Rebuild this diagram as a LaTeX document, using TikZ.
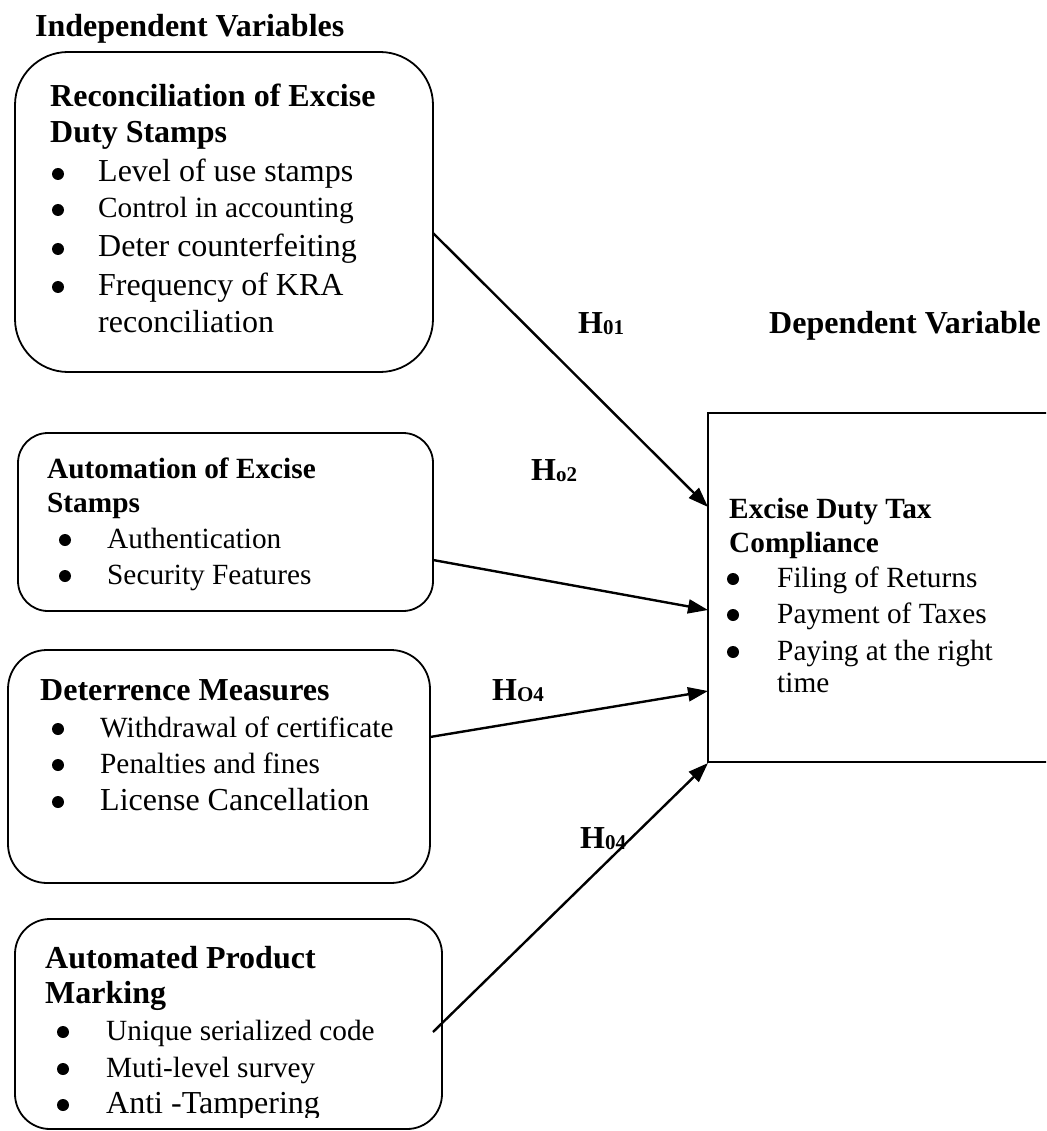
\documentclass[tikz,border=0pt]{standalone}
\usepackage{fontspec}
\setmainfont{Liberation Serif}
\usetikzlibrary{arrows.meta}
\newcommand\fsL{\fontsize{32}{37}\selectfont}
\newcommand\fsM{\fontsize{29.3}{34}\selectfont}
\newcommand\fsS{\fontsize{21}{23}\selectfont}
\begin{document}
\begin{tikzpicture}[x=1pt,y=-1pt,
  box/.style={draw, line width=1.8pt, inner sep=0pt},
  txt/.style={anchor=base west, inner sep=0pt},
  bul/.style={circle, fill, inner sep=0pt, minimum size=12pt, yshift=8pt},
  conn/.style={line width=2.4pt, -{Triangle[length=20pt,width=14pt]}},
  lbl/.style={anchor=base west, inner sep=0pt, font=\fsL\bfseries}]
\useasboundingbox (0,0) rectangle (1046,1131);
\clip (0,0) rectangle (1046,1131);

% boxes
\node[box, rounded corners=53pt, minimum width=418pt, minimum height=320pt] (b1) at (224,212) {};
\node[box, rounded corners=30pt, minimum width=415pt, minimum height=178pt] (b2) at (225.5,522) {};
\node[box, rounded corners=39pt, minimum width=422pt, minimum height=233pt] (b3) at (219,766.5) {};
\node[box, rounded corners=35pt, minimum width=427pt, minimum height=210pt] (b4) at (228.5,1024) {};
\node[box, minimum width=352pt, minimum height=349pt] (dv) at (884,587.5) {};

% headings
\node[txt, font=\fsL\bfseries] (iv) at (35,37) {Independent Variables};
\node[txt, font=\fsL\bfseries] (dvh) at (769,333) {Dependent Variable};

% box 1
\node[txt, font=\fsL\bfseries] (b1h1) at (50,107) {Reconciliation of Excise};
\node[txt, font=\fsL\bfseries] (b1h2) at (50,143) {Duty Stamps};
\node[bul] (b1d1) at (58,182) {};
\node[txt, font=\fsL] (b1t1) at (98,182) {Level of use stamps};
\node[bul] (b1d2) at (58,218) {};
\node[txt, font=\fsM] (b1t2) at (98,218) {Control in accounting};
\node[bul] (b1d3) at (58,257) {};
\node[txt, font=\fsL] (b1t3) at (98,257) {Deter counterfeiting};
\node[bul] (b1d4) at (58,295) {};
\node[txt, font=\fsL] (b1t4) at (98,295) {Frequency of KRA};
\node[txt, font=\fsL] (b1t5) at (98,332) {reconciliation};

% box 2
\node[txt, font=\fsM\bfseries] (b2h1) at (47,478) {Automation of Excise};
\node[txt, font=\fsM\bfseries] (b2h2) at (47,512) {Stamps};
\node[bul] (b2d1) at (65,548) {};
\node[txt, font=\fsM] (b2t1) at (107,548) {Authentication};
\node[bul] (b2d2) at (65,584) {};
\node[txt, font=\fsM] (b2t2) at (107,584) {Security Features};

% box 3
\node[txt, font=\fsL\bfseries] (b3h1) at (40,700) {Deterrence Measures};
\node[bul] (b3d1) at (58,737) {};
\node[txt, font=\fsM] (b3t1) at (100,737) {Withdrawal of certificate};
\node[bul] (b3d2) at (58,773) {};
\node[txt, font=\fsM] (b3t2) at (100,773) {Penalties and fines};
\node[bul] (b3d3) at (58,810) {};
\node[txt, font=\fsL] (b3t3) at (100,810) {License Cancellation};

% box 4
\node[txt, font=\fsL\bfseries] (b4h1) at (45,968) {Automated Product};
\node[txt, font=\fsL\bfseries] (b4h2) at (45,1003) {Marking};
\begin{scope}
\clip (0,0) rectangle (1046,1117);
\node[bul] (b4d1) at (63,1040) {};
\node[txt, font=\fsM] (b4t1) at (106,1040) {Unique serialized code};
\node[bul] (b4d2) at (63,1077) {};
\node[txt, font=\fsM] (b4t2) at (106,1077) {Muti-level survey};
\node[bul] (b4d3) at (63,1113) {};
\node[txt, font=\fsL] (b4t3) at (106,1113) {Anti -Tampering};
\end{scope}

% dependent box
\node[txt, font=\fsM\bfseries] (dvh1) at (729,518) {Excise Duty Tax};
\node[txt, font=\fsM\bfseries] (dvh2) at (729,552) {Compliance};
\node[bul] (dvd1) at (733,587) {};
\node[txt, font=\fsM] (dvt1) at (777,587) {Filing of Returns};
\node[bul] (dvd2) at (733,623) {};
\node[txt, font=\fsM] (dvt2) at (777,623) {Payment of Taxes};
\node[bul] (dvd3) at (733,660) {};
\node[txt, font=\fsM] (dvt3) at (777,660) {Paying at the right};
\node[txt, font=\fsM] (dvt4) at (777,692) {time};

% connectors
\coordinate (s1) at (433,233);
\coordinate (t1) at (708,507);
\coordinate (s2) at (433,560);
\coordinate (t2) at (708,610);
\coordinate (s3) at (430,737);
\coordinate (t3) at (708,691);
\coordinate (s4) at (433,1032);
\coordinate (t4) at (708,763);
\draw[conn] (s1) -- (t1);
\draw[conn] (s2) -- (t2);
\draw[conn] (s3) -- (t3);
\draw[conn] (s4) -- (t4);

% labels
\node[lbl] (h1) at (578,333) {H\raisebox{-1pt}{\fsS 01}};
\node[lbl] (h2) at (531,480) {H\raisebox{-1pt}{\fsS o2}};
\node[lbl] (h3) at (492,700) {H\raisebox{-1pt}{\fsS O4}};
\node[lbl] (h4) at (580,848) {H\raisebox{-1pt}{\fsS 04}};
\end{tikzpicture}
\end{document}
